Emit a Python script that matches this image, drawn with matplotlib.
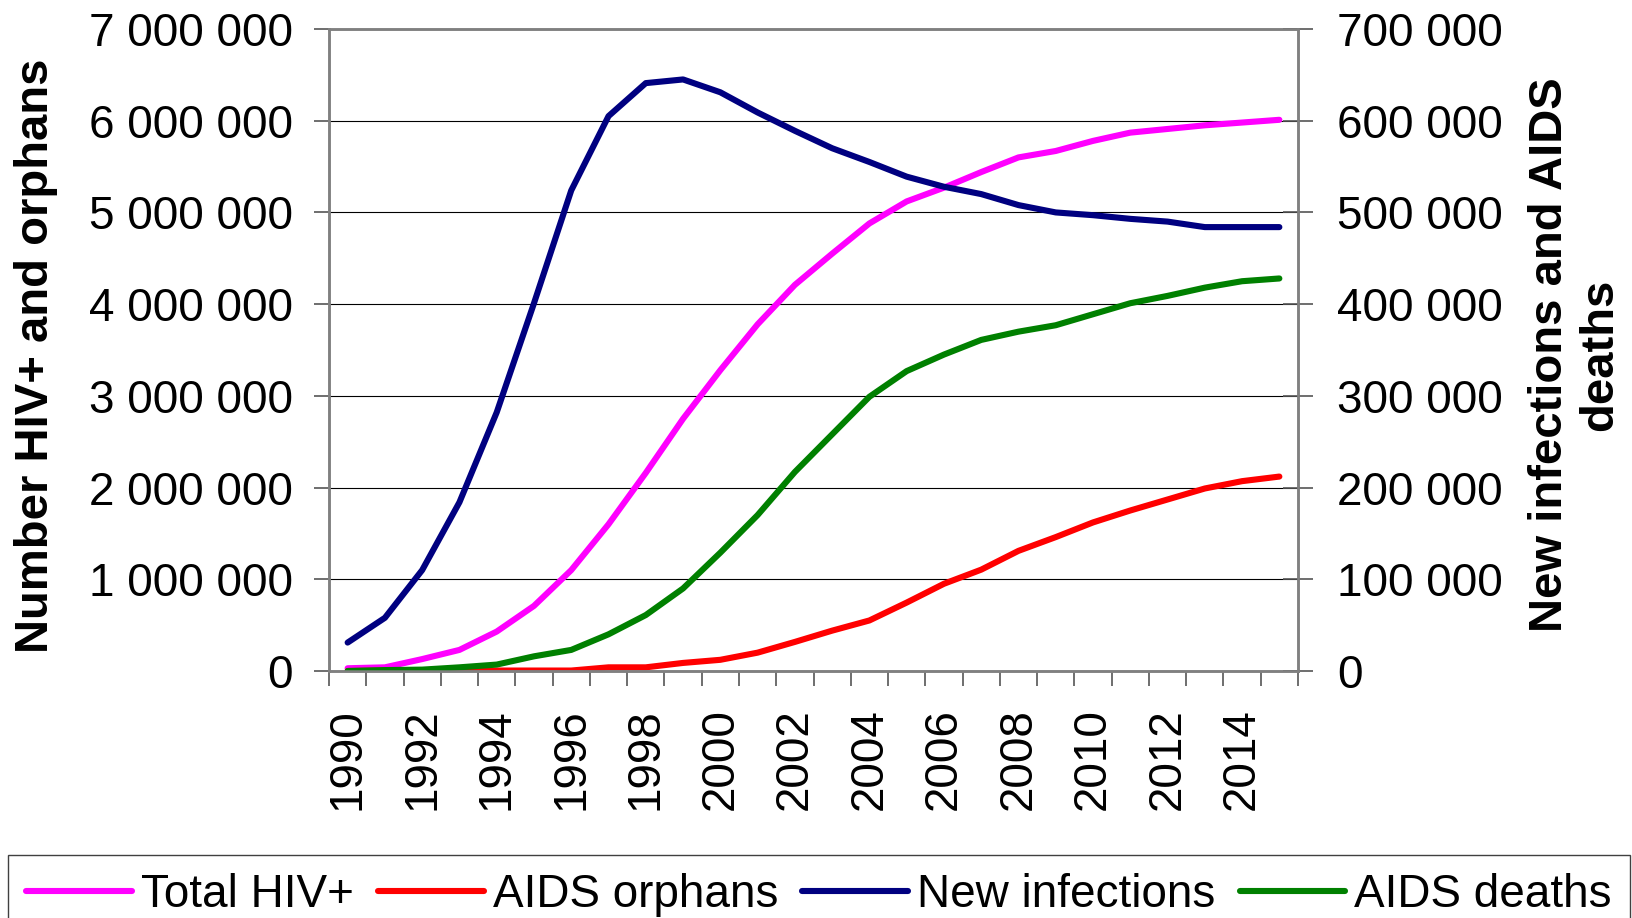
import numpy as np
import matplotlib
matplotlib.use("Agg")
import matplotlib.pyplot as plt
from matplotlib.ticker import FuncFormatter, FixedLocator

plt.rcParams['font.family'] = ['Liberation Sans', 'DejaVu Sans']

years = list(range(1990, 2016))

# left axis
total_hiv = [30000, 40000, 130000, 230000, 430000, 710000, 1100000, 1600000, 2160000, 2750000,
             3280000, 3780000, 4210000, 4550000, 4880000, 5120000, 5270000, 5440000, 5600000, 5670000,
             5780000, 5870000, 5910000, 5950000, 5980000, 6010000]
aids_orphans = [0, 5000, 5000, 5000, 5000, 5000, 5000, 40000, 40000, 88000,
                122000, 200000, 317000, 440000, 551000, 746000, 951000, 1105000, 1310000, 1460000,
                1620000, 1750000, 1870000, 1990000, 2070000, 2120000]
# right axis
new_infections = [31000, 58000, 110000, 184000, 282000, 401000, 524000, 605000, 641000, 645000,
                  631000, 609000, 589000, 570000, 555000, 539000, 528000, 520000, 508000, 500000,
                  497000, 493000, 490000, 484000, 484000, 484000]
aids_deaths = [0, 1000, 1500, 4000, 7000, 16000, 23000, 40000, 61000, 90000,
               129000, 170000, 217000, 258000, 299000, 327000, 345000, 361000, 370000, 377000,
               389000, 401000, 409000, 418000, 425000, 428000]

FS = 33
fmt = FuncFormatter(lambda v, p: f"{v:,.0f}".replace(",", " "))

fig = plt.figure(figsize=(16.32, 9.18), dpi=100)
ax = fig.add_axes([329/1632, 1-671/918, (1298-329)/1632, (671-29)/918])
ax2 = ax.twinx()

x = np.arange(len(years))
lw = 4.4
l1, = ax.plot(x, total_hiv, color='#FF00FF', lw=lw, solid_capstyle='round', label='Total HIV+')
l2, = ax.plot(x, aids_orphans, color='#FF0000', lw=lw, solid_capstyle='round', label='AIDS orphans')
l3, = ax2.plot(x, new_infections, color='#000080', lw=lw, solid_capstyle='round', label='New infections')
l4, = ax2.plot(x, aids_deaths, color='#008000', lw=lw, solid_capstyle='round', label='AIDS deaths')

ax.set_xlim(-0.5, len(years) - 0.5)
ax.set_ylim(0, 7000000)
ax2.set_ylim(0, 700000)
ax.set_yticks(np.arange(0, 7000001, 1000000))
ax2.set_yticks(np.arange(0, 700001, 100000))
ax.yaxis.set_major_formatter(fmt)
ax2.yaxis.set_major_formatter(fmt)

ax.set_xticks(x[::2])
ax.set_xticklabels([str(y) for y in years[::2]], rotation=90)
ax.xaxis.set_minor_locator(FixedLocator(np.arange(-0.5, len(years), 1)))
ax.tick_params(axis='x', which='major', length=0, pad=27, labelsize=FS)
ax.tick_params(axis='x', which='minor', length=11, width=1.2, color='#555555', direction='out')
ax.tick_params(axis='y', length=11, width=1.2, color='#555555', pad=15, labelsize=FS)
ax2.tick_params(axis='y', length=22, width=1.2, color='#555555', direction='inout', pad=17, labelsize=FS)

ax.grid(axis='y', color='black', lw=0.8)
ax.set_axisbelow(True)
for a in (ax, ax2):
    for s in a.spines.values():
        s.set_color('#808080')
        s.set_linewidth(1.8)

ax.set_ylabel('Number HIV+ and orphans', fontsize=34, fontweight='bold', va='center')
ax.yaxis.set_label_coords((36-329)/969, 1 - (356-29)/642)
ax2.set_ylabel('New infections and AIDS\ndeaths', fontsize=34, fontweight='bold',
               va='center', ha='center', multialignment='center', linespacing=1.2)
ax2.yaxis.set_label_coords((1575-329)/969, 1 - (355-29)/642)

fig.legend(handles=[l1, l2, l3, l4], loc='upper left',
           bbox_to_anchor=(8/1632, 1-855/918, (1630-8)/1632, 0.0), mode='expand',
           ncol=4, fontsize=FS, handlelength=2.3, handletextpad=0.2, columnspacing=0.4,
           borderpad=0.4, borderaxespad=0, fancybox=False, edgecolor='#404040', framealpha=1)

fig.savefig('out.png', dpi=100)
